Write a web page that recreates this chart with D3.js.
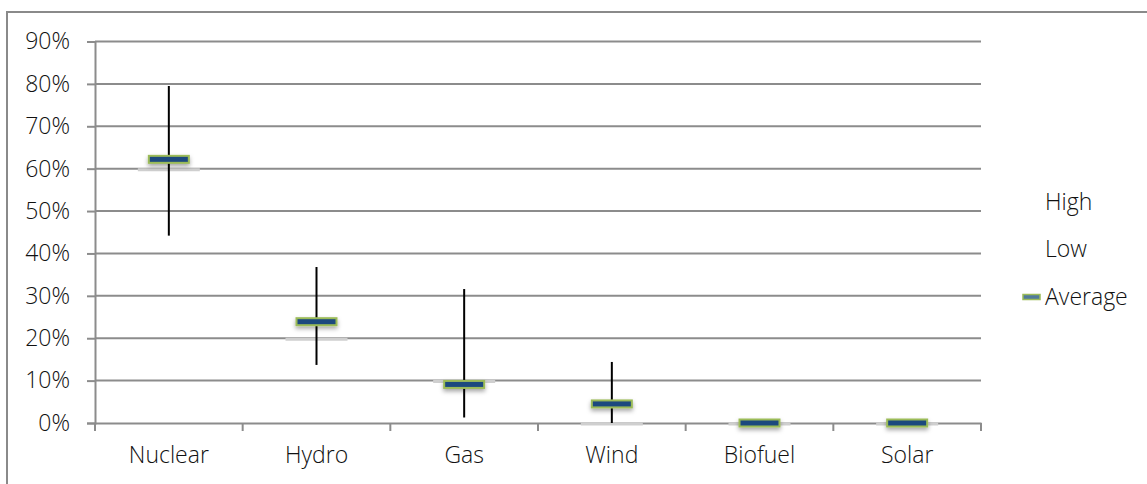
<!DOCTYPE html>
<html>
<head>
<meta charset="utf-8">
<script src="https://cdn.jsdelivr.net/npm/d3@7/dist/d3.min.js"></script>
<style>
  html, body { margin: 0; padding: 0; background: #fff; }
  svg { display: block; }
  text { font-family: "Open Sans", "Noto Sans", sans-serif; fill: #111; font-weight: 300; }
</style>
</head>
<body>
<svg id="chart" width="1147" height="484"></svg>
<script>
// Generation share by source: range (low–high) and average
const categories = ["Nuclear", "Hydro", "Gas", "Wind", "Biofuel", "Solar"];
const highValues = [0.795, 0.368, 0.316, 0.144, 0, 0];
const lowValues = [0.442, 0.137, 0.013, 0, 0, 0];
const averageValues = [0.622, 0.239, 0.091, 0.045, 0, 0];
const floorValues = [0.6, 0.2, 0.1, 0, 0, 0];
const yTicks = [0, 0.1, 0.2, 0.3, 0.4, 0.5, 0.6, 0.7, 0.8, 0.9];
const legendLabels = ["High", "Low", "Average"];

const svg = d3.select("#chart");
const plot = { left: 95, right: 981, top: 41.5, bottom: 423 };
const FONT = 23;

const defs = svg.append("defs");
const shadow = defs.append("filter").attr("id", "shadow")
  .attr("x", "-30%").attr("y", "-80%").attr("width", "160%").attr("height", "300%");
shadow.append("feDropShadow").attr("dx", 0).attr("dy", 2.5).attr("stdDeviation", 2)
  .attr("flood-color", "#000").attr("flood-opacity", 0.35);

// outer chart frame
svg.append("rect").attr("x", 7).attr("y", 12).attr("width", 1160).attr("height", 490)
  .attr("fill", "none").attr("stroke", "#8a8a8a").attr("stroke-width", 2);

const x = d3.scaleBand().domain(categories).range([plot.left, plot.right]).padding(0);
const y = d3.scaleLinear().domain([0, 0.9]).range([plot.bottom, plot.top]);

// horizontal gridlines
svg.append("g").selectAll("line").data(yTicks.filter(d => d > 0)).join("line")
  .attr("x1", plot.left).attr("x2", plot.right)
  .attr("y1", d => y(d)).attr("y2", d => y(d))
  .attr("stroke", "#8c8c8c").attr("stroke-width", 2);

// y axis
const yAxis = svg.append("g").attr("transform", `translate(${plot.left},0)`)
  .call(d3.axisLeft(y).tickValues(yTicks).tickFormat(d3.format(".0%")).tickSize(8).tickPadding(17));
yAxis.select(".domain").attr("stroke", "#8c8c8c").attr("stroke-width", 2);
yAxis.selectAll(".tick line").attr("stroke", "#8c8c8c").attr("stroke-width", 2);
yAxis.selectAll(".tick text").attr("font-size", FONT).attr("fill", "#111")
  .attr("font-family", "'Open Sans', sans-serif").attr("font-weight", 300);

// x axis
const xAxis = svg.append("g").attr("transform", `translate(0,${plot.bottom})`)
  .call(d3.axisBottom(x).tickSize(0).tickPadding(24));
xAxis.select(".domain").attr("stroke", "#8c8c8c").attr("stroke-width", 2);
xAxis.selectAll(".tick text").attr("font-size", FONT).attr("fill", "#111")
  .attr("font-family", "'Open Sans', sans-serif").attr("font-weight", 300);
// category boundary ticks
const bounds = categories.map(c => x(c)).concat([plot.right]);
svg.append("g").selectAll("line").data(bounds).join("line")
  .attr("x1", d => d).attr("x2", d => d)
  .attr("y1", plot.bottom).attr("y2", plot.bottom + 8)
  .attr("stroke", "#8c8c8c").attr("stroke-width", 2);

// faint floor segments
svg.append("g").selectAll("line").data(floorValues).join("line")
  .attr("x1", (d, i) => x(categories[i]) + x.bandwidth() / 2 - 31)
  .attr("x2", (d, i) => x(categories[i]) + x.bandwidth() / 2 + 31)
  .attr("y1", d => y(d) + 1).attr("y2", d => y(d) + 1)
  .attr("stroke", "#cfcfcf").attr("stroke-width", 3);

const cx = i => x(categories[i]) + x.bandwidth() / 2;

// high-low lines
svg.append("g").selectAll("line").data(categories).join("line")
  .attr("x1", (d, i) => cx(i)).attr("x2", (d, i) => cx(i))
  .attr("y1", (d, i) => y(highValues[i])).attr("y2", (d, i) => y(lowValues[i]))
  .attr("stroke", "#000").attr("stroke-width", 2);

// average markers
svg.append("g").selectAll("rect").data(averageValues).join("rect")
  .attr("x", (d, i) => cx(i) - 20).attr("y", d => y(d) - 3.5)
  .attr("width", 40).attr("height", 7)
  .attr("fill", "#1f4a7e").attr("stroke", "#9bbb59").attr("stroke-width", 2)
  .attr("filter", "url(#shadow)");

// legend
const legend = svg.append("g");
const legY = [202, 249, 297];
legend.selectAll("text").data(legendLabels).join("text")
  .attr("x", 1045).attr("y", (d, i) => legY[i]).attr("dy", "0.35em")
  .attr("font-size", FONT).text(d => d);
legend.append("rect").attr("x", 1023).attr("y", legY[2] - 2.5).attr("width", 17).attr("height", 5)
  .attr("fill", "#4f7a9a").attr("stroke", "#9bbb59").attr("stroke-width", 1.5);
</script>
</body>
</html>
